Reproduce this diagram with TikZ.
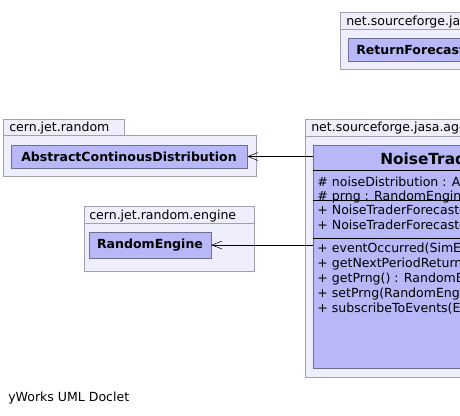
\documentclass[tikz,border=0pt]{standalone}
\usepackage{fontspec}
\setmainfont{DejaVu Sans}
\usetikzlibrary{arrows.meta,fit}
\definecolor{pkgfill}{RGB}{238,238,252}
\definecolor{pkgline}{RGB}{160,160,176}
\definecolor{classfill}{RGB}{184,184,248}
\definecolor{classline}{RGB}{110,110,150}

\begin{document}
\begin{tikzpicture}[x=0.75pt, y=-0.75pt,
    every node/.style={font=\fontsize{9.4}{11}\selectfont, inner sep=0pt},
    pkg/.style={fill=pkgfill, draw=pkgline},
    classbox/.style={fill=classfill, draw=classline},
    classname/.style={font=\fontsize{9.4}{11}\selectfont\bfseries},
    member/.style={anchor=base west},
    dep/.style={-{Straight Barb[length=7.5pt,width=6pt]}}]
        \useasboundingbox (0,0) rectangle (460,415);
        \clip (0,0) rectangle (460,415);

        % ReturnForecaster package
        \draw[pkg] (340,12) rectangle (480,29);
        \node[member] (pkrf) at (346,25) {net.sourceforge.jasa.agent.strategy};
        \draw[pkg] (340,29) rectangle (480,69);
        \node[classbox, fit={(348,38) (480,61)}] (rf) {};
        \node[member, classname] (rfname) at (356,54) {ReturnForecaster};

        % cern.jet.random
        \draw[pkg] (3,119) rectangle (124,135);
        \node[member] (pkacd) at (9,131) {cern.jet.random};
        \draw[pkg] (3,135) rectangle (256,176);
        \node[classbox, fit={(11,145) (247,168)}] (acd) {};
        \node[classname] (acdname) at (acd.center) {AbstractContinousDistribution};

        % cern.jet.random.engine
        \draw[pkg] (84,206) rectangle (254,223);
        \node[member] (pkre) at (89,219) {cern.jet.random.engine};
        \draw[pkg] (84,223) rectangle (254,271);
        \node[classbox, fit={(89,232) (211,258)}] (re) {};
        \node[classname] (rename) at (re.center) {RandomEngine};

        % NoiseTraderForecaster
        \draw[pkg] (305,119) rectangle (480,136);
        \node[member] (pknt) at (311,131) {net.sourceforge.jasa.agent.strategy};
        \draw[pkg] (305,136) rectangle (480,377);
        \node[classbox, fit={(313,145) (480,368)}] (nt) {};
        \node[member, font=\fontsize{11.5}{13}\selectfont\bfseries] (ntname) at (380,164) {NoiseTraderForecaster};
        \draw (313,170) -- (480,170);
        \draw (313,200) -- (480,200);
        \draw (313,238) -- (480,238);
        \foreach \y/\v/\t in {186/\#/{noiseDistribution : AbstractContinousDistribution},
                              200/\#/{prng : RandomEngine},
                              214/+/{NoiseTraderForecaster()},
                              229/+/{NoiseTraderForecaster(RandomEngine)},
                              252/+/{eventOccurred(SimEvent) : void},
                              267/+/{getNextPeriodReturn() : double},
                              282/+/{getPrng() : RandomEngine},
                              297/+/{setPrng(RandomEngine) : void},
                              312/+/{subscribeToEvents(EventScheduler) : void}}
          \node[member] at (317,\y) {\makebox[11pt][l]{\v}\t};

        % dependencies
        \draw[dep] (nt.west |- acd.east) -- (acd.east);
        \draw[dep] (nt.west |- re.east) -- (re.east);

        % footer
        \node[member] (doclet) at (8,401) {yWorks UML Doclet};
      \end{tikzpicture}
\end{document}
